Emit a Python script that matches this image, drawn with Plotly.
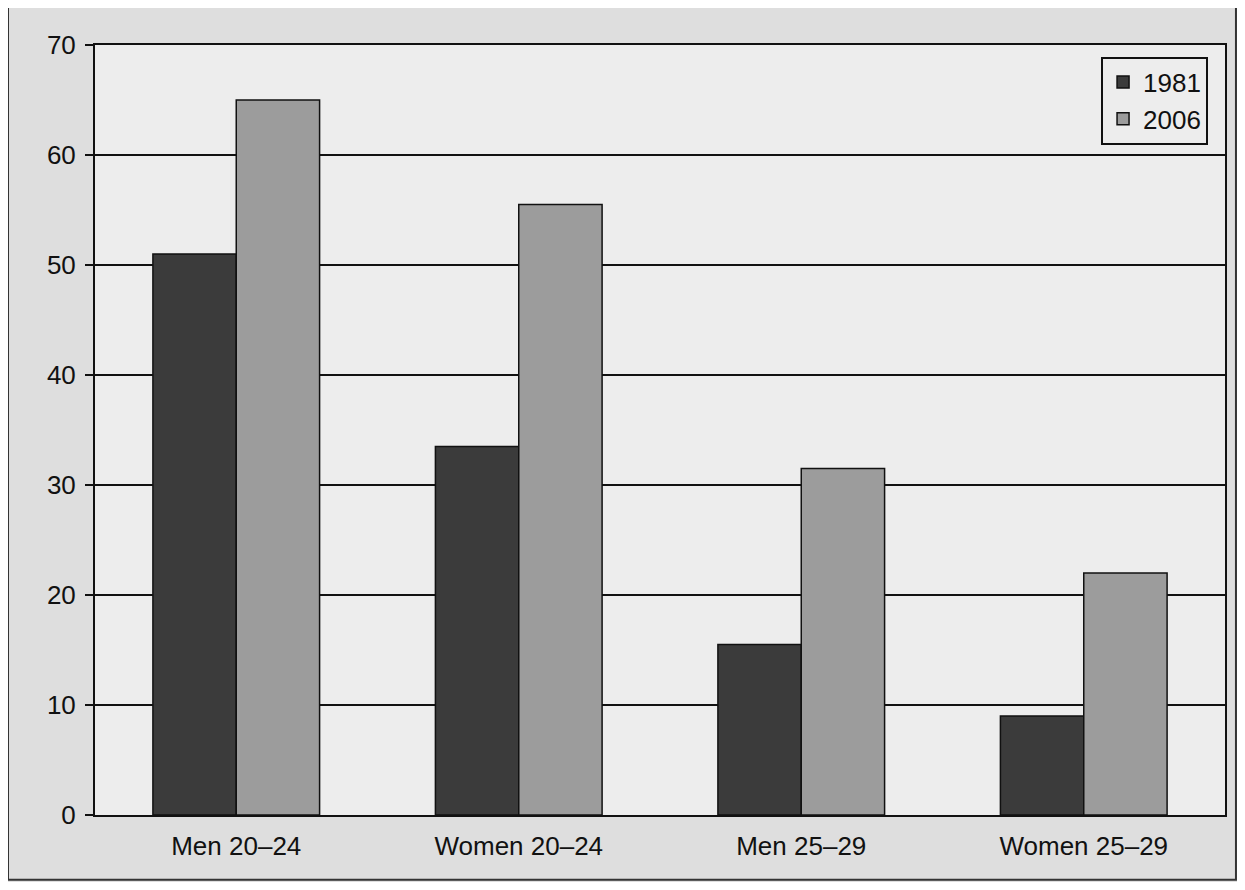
import plotly.graph_objects as go

categories = ["Men 20–24", "Women 20–24", "Men 25–29", "Women 25–29"]
values_1981 = [51, 33.5, 15.5, 9]
values_2006 = [65, 55.5, 31.5, 22]
y_ticks = [0, 10, 20, 30, 40, 50, 60, 70]

fig = go.Figure()
fig.add_trace(go.Bar(name="1981", x=categories, y=values_1981,
                     marker=dict(color="#3b3b3b", line=dict(color="#111111", width=1.5))))
fig.add_trace(go.Bar(name="2006", x=categories, y=values_2006,
                     marker=dict(color="#9c9c9c", line=dict(color="#111111", width=1.5))))

fig.update_layout(
    width=1229, height=874,
    margin=dict(l=87, r=12, t=37, b=67, autoexpand=False),
    paper_bgcolor="#dedede",
    plot_bgcolor="#ededed",
    barmode="group",
    bargap=0.41,
    bargroupgap=0,
    font=dict(family="Liberation Sans, Arial, sans-serif", size=26, color="#111111"),
    showlegend=True,
    legend=dict(x=0.985, y=0.985, xanchor="right", yanchor="top",
                bgcolor="#ededed", bordercolor="#111111", borderwidth=2,
                font=dict(size=26), tracegroupgap=2),
    xaxis=dict(showline=True, linecolor="#111111", linewidth=2, mirror=True,
               ticks="", tickfont=dict(size=26), ticklabelstandoff=7),
    yaxis=dict(range=[0, 70], tickvals=y_ticks, showgrid=True, gridcolor="#111111",
               gridwidth=1.6, showline=True, linecolor="#111111", linewidth=2,
               mirror=True, ticks="outside", ticklen=8, tickcolor="#111111",
               tickwidth=2, zeroline=False, tickfont=dict(size=26),
               ticklabelstandoff=4),
    shapes=[dict(type="rect", xref="paper", yref="paper",
                 x0=-0.077, x1=1.0097, y0=-0.084, y1=1.052,
                 line=dict(color="#333333", width=2))],
)

fig.write_html("out.html")
